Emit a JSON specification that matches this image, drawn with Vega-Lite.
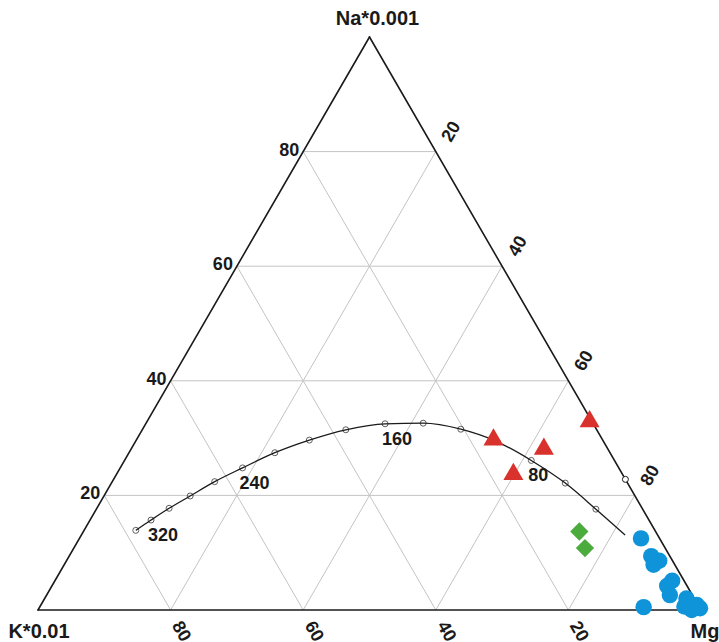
{
  "$schema": "https://vega.github.io/schema/vega-lite/v6.json",
  "width": 663,
  "height": 573,
  "autosize": {"type": "none"},
  "padding": {"left": 38, "top": 37, "right": 18, "bottom": 32},
  "background": "white",
  "config": {"view": {"stroke": null}},
  "datasets": {
    "grid": [
      {"Na1": 20, "Mg1": 0, "Na2": 20, "Mg2": 80},
      {"Na1": 40, "Mg1": 0, "Na2": 40, "Mg2": 60},
      {"Na1": 60, "Mg1": 0, "Na2": 60, "Mg2": 40},
      {"Na1": 80, "Mg1": 0, "Na2": 80, "Mg2": 20},
      {"Na1": 0, "Mg1": 20, "Na2": 80, "Mg2": 20},
      {"Na1": 0, "Mg1": 40, "Na2": 60, "Mg2": 40},
      {"Na1": 0, "Mg1": 60, "Na2": 40, "Mg2": 60},
      {"Na1": 0, "Mg1": 80, "Na2": 20, "Mg2": 80},
      {"Na1": 0, "Mg1": 80, "Na2": 80, "Mg2": 0},
      {"Na1": 0, "Mg1": 60, "Na2": 60, "Mg2": 0},
      {"Na1": 0, "Mg1": 40, "Na2": 40, "Mg2": 0},
      {"Na1": 0, "Mg1": 20, "Na2": 20, "Mg2": 0}
    ],
    "border": [
      {"Na1": 0, "Mg1": 0, "Na2": 0, "Mg2": 100},
      {"Na1": 0, "Mg1": 100, "Na2": 100, "Mg2": 0},
      {"Na1": 100, "Mg1": 0, "Na2": 0, "Mg2": 0}
    ],
    "curve": [
      {"T": 340, "Na": 13.9, "Mg": 7.8, "marker": true},
      {"T": 320, "Na": 15.7, "Mg": 9.2, "marker": true},
      {"T": 300, "Na": 17.75, "Mg": 10.9, "marker": true},
      {"T": 280, "Na": 19.9, "Mg": 13.0, "marker": true},
      {"T": 260, "Na": 22.4, "Mg": 15.45, "marker": true},
      {"T": 240, "Na": 24.8, "Mg": 18.45, "marker": true},
      {"T": 220, "Na": 27.45, "Mg": 22.0, "marker": true},
      {"T": 200, "Na": 29.65, "Mg": 26.1, "marker": true},
      {"T": 180, "Na": 31.45, "Mg": 30.7, "marker": true},
      {"T": 160, "Na": 32.5, "Mg": 36.1, "marker": true},
      {"T": 140, "Na": 32.6, "Mg": 41.8, "marker": true},
      {"T": 120, "Na": 31.55, "Mg": 48.0, "marker": true},
      {"T": 100, "Na": 29.35, "Mg": 54.6, "marker": true},
      {"T": 80, "Na": 26.1, "Mg": 61.35, "marker": true},
      {"T": 60, "Na": 22.15, "Mg": 68.45, "marker": true},
      {"T": 40, "Na": 17.6, "Mg": 75.35, "marker": true},
      {"T": 20, "Na": 13.1, "Mg": 82.0, "marker": false}
    ],
    "curveLabels": [
      {"Na": 15.7, "Mg": 9.2, "label": "320"},
      {"Na": 24.8, "Mg": 18.45, "label": "240"},
      {"Na": 32.5, "Mg": 36.1, "label": "160"},
      {"Na": 26.1, "Mg": 61.35, "label": "80"}
    ],
    "edgePoint": [
      {"Na": 22.8, "Mg": 77.2}
    ],
    "samples": [
      {"group": "A", "Na": 30.2, "Mg": 53.6},
      {"group": "A", "Na": 28.6, "Mg": 62.0},
      {"group": "A", "Na": 24.2, "Mg": 59.6},
      {"group": "A", "Na": 33.4, "Mg": 66.5},
      {"group": "B", "Na": 13.7, "Mg": 74.8},
      {"group": "B", "Na": 10.8, "Mg": 77.1},
      {"group": "C", "Na": 12.5, "Mg": 84.7},
      {"group": "C", "Na": 9.4, "Mg": 87.8},
      {"group": "C", "Na": 8.6, "Mg": 89.4},
      {"group": "C", "Na": 7.9, "Mg": 88.9},
      {"group": "C", "Na": 5.1, "Mg": 93.1},
      {"group": "C", "Na": 4.2, "Mg": 92.8},
      {"group": "C", "Na": 2.6, "Mg": 94.0},
      {"group": "C", "Na": 2.0, "Mg": 96.8},
      {"group": "C", "Na": 0.6, "Mg": 97.2},
      {"group": "C", "Na": 0.9, "Mg": 98.9},
      {"group": "C", "Na": 0.3, "Mg": 99.7},
      {"group": "C", "Na": 0.0, "Mg": 98.6},
      {"group": "C", "Na": 0.5, "Mg": 91.1}
    ],
    "naTicks": [
      {"Na": 20, "Mg": 0, "label": "20"},
      {"Na": 40, "Mg": 0, "label": "40"},
      {"Na": 60, "Mg": 0, "label": "60"},
      {"Na": 80, "Mg": 0, "label": "80"}
    ],
    "kTicks": [
      {"Na": 0, "Mg": 20, "label": "80"},
      {"Na": 0, "Mg": 40, "label": "60"},
      {"Na": 0, "Mg": 60, "label": "40"},
      {"Na": 0, "Mg": 80, "label": "20"}
    ],
    "mgTicks": [
      {"Na": 80, "Mg": 20, "label": "20"},
      {"Na": 60, "Mg": 40, "label": "40"},
      {"Na": 40, "Mg": 60, "label": "60"},
      {"Na": 20, "Mg": 80, "label": "80"}
    ]
  },
  "layer": [
    {
      "data": {"name": "grid"},
      "transform": [
        {"calculate": "datum.Mg1 + datum.Na1 / 2", "as": "x1"},
        {"calculate": "datum.Na1 * 0.8660254", "as": "y1"},
        {"calculate": "datum.Mg2 + datum.Na2 / 2", "as": "x2"},
        {"calculate": "datum.Na2 * 0.8660254", "as": "y2"}
      ],
      "mark": {"type": "rule", "color": "#c4c4c4", "strokeWidth": 1},
      "encoding": {
        "x": {"field": "x1", "type": "quantitative", "scale": {"domain": [0, 100], "nice": false, "zero": false}, "axis": null},
        "y": {"field": "y1", "type": "quantitative", "scale": {"domain": [0, 86.60254], "nice": false, "zero": false}, "axis": null},
        "x2": {"field": "x2"},
        "y2": {"field": "y2"}
      }
    },
    {
      "data": {"name": "border"},
      "transform": [
        {"calculate": "datum.Mg1 + datum.Na1 / 2", "as": "x1"},
        {"calculate": "datum.Na1 * 0.8660254", "as": "y1"},
        {"calculate": "datum.Mg2 + datum.Na2 / 2", "as": "x2"},
        {"calculate": "datum.Na2 * 0.8660254", "as": "y2"}
      ],
      "mark": {"type": "rule", "color": "#1a1a1a", "strokeWidth": 1.6, "strokeCap": "round"},
      "encoding": {
        "x": {"field": "x1", "type": "quantitative"},
        "y": {"field": "y1", "type": "quantitative"},
        "x2": {"field": "x2"},
        "y2": {"field": "y2"}
      }
    },
    {
      "data": {"name": "curve"},
      "transform": [
        {"calculate": "datum.Mg + datum.Na / 2", "as": "x"},
        {"calculate": "datum.Na * 0.8660254", "as": "y"}
      ],
      "mark": {"type": "line", "color": "#1a1a1a", "strokeWidth": 1.3, "interpolate": "monotone"},
      "encoding": {
        "x": {"field": "x", "type": "quantitative"},
        "y": {"field": "y", "type": "quantitative"},
        "order": {"field": "x", "type": "quantitative"}
      }
    },
    {
      "data": {"name": "curve"},
      "transform": [
        {"filter": "datum.marker"},
        {"calculate": "datum.Mg + datum.Na / 2", "as": "x"},
        {"calculate": "datum.Na * 0.8660254", "as": "y"}
      ],
      "mark": {"type": "point", "shape": "circle", "filled": false, "color": "#1a1a1a", "strokeWidth": 1, "size": 36},
      "encoding": {
        "x": {"field": "x", "type": "quantitative"},
        "y": {"field": "y", "type": "quantitative"}
      }
    },
    {
      "data": {"name": "edgePoint"},
      "transform": [
        {"calculate": "datum.Mg + datum.Na / 2", "as": "x"},
        {"calculate": "datum.Na * 0.8660254", "as": "y"}
      ],
      "mark": {"type": "point", "shape": "circle", "filled": false, "color": "#1a1a1a", "fill": "white", "fillOpacity": 1, "strokeWidth": 1, "size": 36},
      "encoding": {
        "x": {"field": "x", "type": "quantitative"},
        "y": {"field": "y", "type": "quantitative"}
      }
    },
    {
      "data": {"name": "curveLabels"},
      "transform": [
        {"calculate": "datum.Mg + datum.Na / 2", "as": "x"},
        {"calculate": "datum.Na * 0.8660254", "as": "y"}
      ],
      "mark": {"type": "text", "align": "left", "baseline": "middle", "dx": -3, "dy": 16, "font": "Liberation Sans", "fontWeight": "bold", "fontSize": 18, "color": "#1a1a1a"},
      "encoding": {
        "x": {"field": "x", "type": "quantitative"},
        "y": {"field": "y", "type": "quantitative"},
        "text": {"field": "label"}
      }
    },
    {
      "data": {"name": "samples"},
      "transform": [
        {"calculate": "datum.Mg + datum.Na / 2", "as": "x"},
        {"calculate": "datum.Na * 0.8660254", "as": "y"}
      ],
      "mark": {"type": "point", "filled": true, "opacity": 1, "strokeWidth": 0},
      "encoding": {
        "x": {"field": "x", "type": "quantitative"},
        "y": {"field": "y", "type": "quantitative"},
        "shape": {"field": "group", "type": "nominal", "scale": {"domain": ["A", "B", "C"], "range": ["triangle-up", "diamond", "circle"]}, "legend": null},
        "color": {"field": "group", "type": "nominal", "scale": {"domain": ["A", "B", "C"], "range": ["#d9312b", "#4bab3c", "#0f94d9"]}, "legend": null},
        "size": {"field": "group", "type": "nominal", "scale": {"domain": ["A", "B", "C"], "range": [400, 270, 310]}, "legend": null}
      }
    },
    {
      "data": {"name": "naTicks"},
      "transform": [
        {"calculate": "datum.Mg + datum.Na / 2", "as": "x"},
        {"calculate": "datum.Na * 0.8660254", "as": "y"}
      ],
      "mark": {"type": "text", "align": "right", "baseline": "middle", "dx": -4, "dy": -1, "font": "Liberation Sans", "fontWeight": "bold", "fontSize": 18, "color": "#1a1a1a"},
      "encoding": {
        "x": {"field": "x", "type": "quantitative"},
        "y": {"field": "y", "type": "quantitative"},
        "text": {"field": "label"}
      }
    },
    {
      "data": {"name": "kTicks"},
      "transform": [
        {"calculate": "datum.Mg + datum.Na / 2", "as": "x"},
        {"calculate": "datum.Na * 0.8660254", "as": "y"}
      ],
      "mark": {"type": "text", "align": "center", "baseline": "middle", "angle": 60, "dx": 24, "dy": 2, "font": "Liberation Sans", "fontWeight": "bold", "fontSize": 18, "color": "#1a1a1a"},
      "encoding": {
        "x": {"field": "x", "type": "quantitative"},
        "y": {"field": "y", "type": "quantitative"},
        "text": {"field": "label"}
      }
    },
    {
      "data": {"name": "mgTicks"},
      "transform": [
        {"calculate": "datum.Mg + datum.Na / 2", "as": "x"},
        {"calculate": "datum.Na * 0.8660254", "as": "y"}
      ],
      "mark": {"type": "text", "align": "center", "baseline": "middle", "angle": -60, "dx": 25, "dy": 4, "font": "Liberation Sans", "fontWeight": "bold", "fontSize": 18, "color": "#1a1a1a"},
      "encoding": {
        "x": {"field": "x", "type": "quantitative"},
        "y": {"field": "y", "type": "quantitative"},
        "text": {"field": "label"}
      }
    },
    {
      "data": {"values": [{"Na": 100, "Mg": 0, "label": "Na*0.001"}]},
      "transform": [
        {"calculate": "datum.Mg + datum.Na / 2", "as": "x"},
        {"calculate": "datum.Na * 0.8660254", "as": "y"}
      ],
      "mark": {"type": "text", "align": "center", "baseline": "middle", "dx": 8, "dy": -18, "font": "Liberation Sans", "fontWeight": "bold", "fontSize": 20, "color": "#1a1a1a"},
      "encoding": {
        "x": {"field": "x", "type": "quantitative"},
        "y": {"field": "y", "type": "quantitative"},
        "text": {"field": "label"}
      }
    },
    {
      "data": {"values": [{"Na": 0, "Mg": 0, "label": "K*0.01"}]},
      "transform": [
        {"calculate": "datum.Mg + datum.Na / 2", "as": "x"},
        {"calculate": "datum.Na * 0.8660254", "as": "y"}
      ],
      "mark": {"type": "text", "align": "center", "baseline": "middle", "dx": 1, "dy": 22, "font": "Liberation Sans", "fontWeight": "bold", "fontSize": 20, "color": "#1a1a1a"},
      "encoding": {
        "x": {"field": "x", "type": "quantitative"},
        "y": {"field": "y", "type": "quantitative"},
        "text": {"field": "label"}
      }
    },
    {
      "data": {"values": [{"Na": 0, "Mg": 100, "label": "Mg"}]},
      "transform": [
        {"calculate": "datum.Mg + datum.Na / 2", "as": "x"},
        {"calculate": "datum.Na * 0.8660254", "as": "y"}
      ],
      "mark": {"type": "text", "align": "center", "baseline": "middle", "dx": 4, "dy": 22, "font": "Liberation Sans", "fontWeight": "bold", "fontSize": 20, "color": "#1a1a1a"},
      "encoding": {
        "x": {"field": "x", "type": "quantitative"},
        "y": {"field": "y", "type": "quantitative"},
        "text": {"field": "label"}
      }
    }
  ]
}
